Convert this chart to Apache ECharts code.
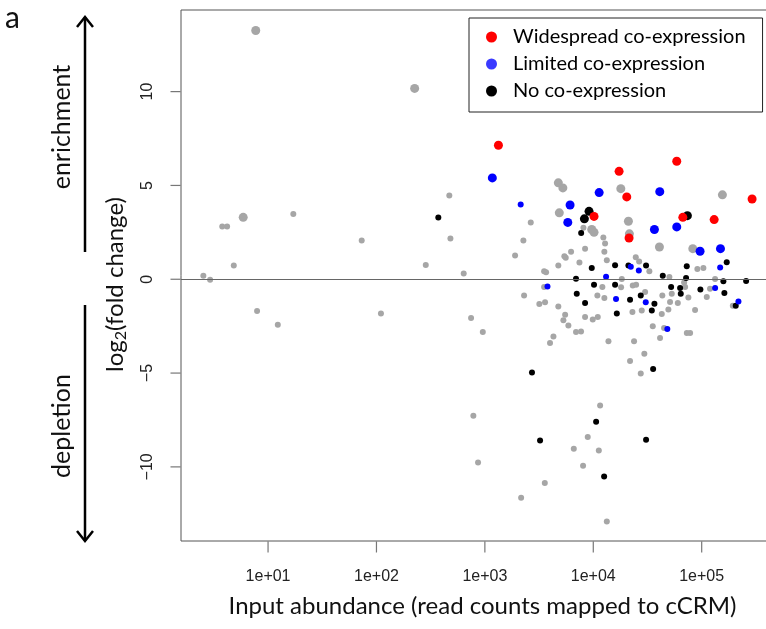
<!DOCTYPE html>
<html>
<head>
<meta charset="utf-8">
<script src="https://cdn.jsdelivr.net/npm/echarts@6/dist/echarts.min.js"></script>
<style>
  html, body { margin: 0; padding: 0; background: #fff; }
  #main { width: 766px; height: 629px; }
</style>
</head>
<body>
<div id="main"></div>
<script>
// x = input read counts, y = log2(fold change)
const xTickValues = [10, 100, 1000, 10000, 100000];
const xTickLabels = ['1e+01', '1e+02', '1e+03', '1e+04', '1e+05'];
const yTickValues = [-10, -5, 0, 5, 10];
const yTickLabels = ['\u221210', '\u22125', '0', '5', '10'];
const X_MIN = 1.574, X_MAX = 464500;
const Y_MIN = -13.95, Y_MAX = 14.35;

const classNames = ['Widespread co-expression', 'Limited co-expression', 'No co-expression'];

const grayLarge = [
  [7.7, 13.26], [225, 10.17], [5.9, 3.30], [4760, 5.14], [5240, 4.87], [4860, 3.54],
  [9680, 2.65], [10160, 2.50], [17950, 4.83], [21090, 3.09], [21530, 2.42],
  [40740, 1.72], [82800, 1.63], [155300, 4.50]
];
const graySmall = [
  [470, 4.47], [17.1, 3.48], [3.78, 2.81], [4.19, 2.81], [481, 2.17], [73.1, 2.07],
  [4.83, 0.73], [285, 0.76], [2.53, 0.19], [2.92, -0.02], [638, 0.31], [7.92, -1.69],
  [12.3, -2.42], [110, -1.82], [746, -2.06], [957, -2.81],
  [2265, 2.07], [1900, 1.27], [2650, 3.03], [6240, 1.46], [8400, 1.63], [5410, 1.22],
  [5570, 1.14], [7450, 0.89], [4760, 0.73], [3520, 0.42], [3670, 0.37], [12850, 1.90],
  [12650, 1.46], [13330, 1.01], [12380, 2.23], [8110, 2.74],
  [3520, -0.41], [12130, -0.41], [2300, -0.86], [10910, -0.87], [12650, -1.00],
  [3180, -1.32], [3590, -1.23], [4760, -1.45], [5500, -1.89], [5300, -2.19],
  [8400, -2.01], [9890, -2.15], [11000, -2.01], [5890, -2.46], [6930, -2.81],
  [7710, -2.78], [4290, -3.05], [3990, -3.40], [13800, -3.31],
  [24660, 1.17], [26470, 0.95], [32900, 0.42], [91200, 0.55], [103700, 0.60],
  [50350, 0.12], [68860, -0.17], [18320, 0.02], [18050, -0.43], [23120, -0.33],
  [24830, -0.29], [70310, -0.41], [119400, -0.50], [132900, 0.02], [30060, -0.68],
  [43350, -0.86], [52950, -0.77], [75340, -0.97], [111400, -0.94], [51050, -1.21],
  [60220, -1.26], [193700, -1.41], [28000, -1.66], [22960, -1.74], [49290, -1.61],
  [86880, -1.64], [42830, -1.85], [35380, -2.51], [44980, -2.60], [72950, -2.86],
  [78210, -2.86], [41300, -3.13], [23770, -3.31],
  [29580, -3.97], [21830, -4.36], [27400, -5.02], [11560, -6.73], [783, -7.27],
  [8890, -8.41], [6610, -9.03], [11250, -9.13], [865, -9.77], [8050, -9.94],
  [3570, -10.86], [2160, -11.65], [13330, -12.91]
];
const blackLarge = [[9140, 3.62], [8280, 3.22], [73800, 3.39]];
const blackSmall = [
  [372, 3.29], [7730, 2.47], [9680, 0.60], [15890, 0.75], [21090, 0.73], [30690, 0.73],
  [72810, 0.69], [170200, 0.90], [43750, 0.19], [71790, 0.07], [6930, 0.03],
  [10160, -0.29], [15890, -0.29], [52240, -0.41], [63240, -0.46], [97300, -0.54],
  [158500, -0.11], [256900, -0.09], [7040, -0.77], [27400, -0.86], [64120, -0.77],
  [161900, -0.73], [8400, -1.26], [21830, -1.09], [36640, -1.30], [206100, -1.41],
  [34670, -1.66], [16480, -1.83], [35650, -4.78], [2720, -4.97], [10620, -7.59],
  [3230, -8.59], [30690, -8.55], [12590, -10.51]
];
const blueLarge = [
  [1172, 5.40], [11330, 4.62], [6110, 3.96], [5820, 3.03], [41050, 4.67],
  [36640, 2.65], [58880, 2.79], [96600, 1.49], [149000, 1.63]
];
const blueSmall = [
  [2140, 3.99], [22180, 0.66], [26300, 0.46], [148000, 0.63], [13120, 0.14],
  [3780, -0.38], [133000, -0.46], [16210, -1.05], [30480, -1.23], [218300, -1.18],
  [48200, -2.65]
];
const redPoints = [
  [1334, 7.14], [17300, 5.75], [58880, 6.29], [20370, 4.39], [10160, 3.35],
  [66990, 3.30], [130300, 3.18], [291700, 4.28], [21380, 2.20]
];

const GRAY = '#a6a6a6', RED = '#ff0000', BLUE = '#0000ff', BLACK = '#000000';
const AXIS = '#555';
const BIG = 9, SMALL = 6;
const CAL = 'Lato, "Open Sans", sans-serif';
const ARIAL = '"Liberation Sans", Arial, sans-serif';

function pts(name, data, color, size) {
  return {
    name: name,
    type: 'scatter',
    data: data,
    symbol: 'circle',
    symbolSize: size,
    itemStyle: { color: color, opacity: 1 },
    emphasis: { disabled: true }
  };
}

// tick marks hang outside the plot box, R style
function tickMarks(data, size, offset) {
  return {
    name: 'ticks',
    type: 'scatter',
    data: data,
    symbol: 'rect',
    symbolSize: size,
    symbolOffset: offset,
    clip: false,
    silent: true,
    itemStyle: { color: AXIS },
    emphasis: { disabled: true }
  };
}

const chart = echarts.init(document.getElementById('main'));

const option = {
  animation: false,
  backgroundColor: '#fff',
  grid: {
    left: 181, top: 10, width: 593, height: 531,
    outerBoundsMode: 'none',
    show: true, borderColor: AXIS, borderWidth: 1, backgroundColor: 'transparent'
  },
  legend: {
    data: [
      { name: classNames[0], itemStyle: { color: RED } },
      { name: classNames[1], itemStyle: { color: '#3a3aff' } },
      { name: classNames[2], itemStyle: { color: BLACK } }
    ],
    orient: 'vertical',
    left: 469, top: 18,
    icon: 'circle',
    itemWidth: 11, itemHeight: 11,
    itemGap: 7,
    padding: [9, 17, 11, 17],
    borderColor: '#222', borderWidth: 1, borderRadius: 0,
    backgroundColor: '#fff',
    selectedMode: false,
    textStyle: { fontFamily: CAL, fontSize: 20, color: '#000', lineHeight: 20, padding: [0, 0, 0, 11] }
  },
  xAxis: {
    type: 'log',
    logBase: 10,
    min: X_MIN,
    max: X_MAX,
    name: 'Input abundance (read counts mapped to cCRM)',
    nameLocation: 'middle',
    nameGap: 53,
    nameTextStyle: { fontFamily: CAL, fontSize: 24, color: '#111', padding: [0, 0, 0, 10] },
    axisLine: { show: false, onZero: false },
    splitLine: { show: false },
    axisTick: { show: false },
    axisLabel: {
      customValues: xTickValues,
      fontFamily: ARIAL, fontSize: 16, color: '#222', margin: 28,
      formatter: function (v) {
        const i = xTickValues.findIndex(t => Math.abs(Math.log10(t) - Math.log10(v)) < 1e-6);
        return i >= 0 ? xTickLabels[i] : '';
      }
    }
  },
  yAxis: {
    type: 'value',
    min: Y_MIN,
    max: Y_MAX,
    name: '{n|log}{s|2}{n|(fold change)}',
    nameLocation: 'middle',
    nameRotate: 90,
    nameGap: 52,
    nameTextStyle: {
      padding: [0, 18, 0, 0],
      rich: {
        n: { fontFamily: CAL, fontSize: 24, color: '#111' },
        s: { fontFamily: CAL, fontSize: 16, color: '#111', padding: [11, 0, 0, 0] }
      }
    },
    axisLine: { show: false, onZero: false },
    splitLine: { show: false },
    axisTick: { show: false },
    axisLabel: {
      customValues: yTickValues,
      rotate: 90,
      fontFamily: ARIAL, fontSize: 16, color: '#222', margin: 25,
      formatter: function (v) {
        const i = yTickValues.findIndex(t => Math.abs(t - v) < 1e-6);
        return i >= 0 ? yTickLabels[i] : '';
      }
    }
  },
  graphic: [
    { type: 'text', left: 5, top: 3, style: { text: 'a', font: '30px ' + CAL, fill: '#111' } },
    { type: 'line', shape: { x1: 85, y1: 17, x2: 85, y2: 252 }, style: { stroke: '#000', lineWidth: 2.5 } },
    { type: 'polyline', shape: { points: [[77, 27], [85, 17], [93, 27]] }, style: { stroke: '#000', lineWidth: 2.5, fill: null } },
    { type: 'line', shape: { x1: 85, y1: 305, x2: 85, y2: 541 }, style: { stroke: '#000', lineWidth: 2.5 } },
    { type: 'polyline', shape: { points: [[77, 531], [85, 541], [93, 531]] }, style: { stroke: '#000', lineWidth: 2.5, fill: null } },
    {
      type: 'text', x: 62, y: 127, rotation: Math.PI / 2,
      style: { text: 'enrichment', font: '25px ' + CAL, fill: '#111', align: 'center', verticalAlign: 'middle' }
    },
    {
      type: 'text', x: 62, y: 426, rotation: Math.PI / 2,
      style: { text: 'depletion', font: '25px ' + CAL, fill: '#111', align: 'center', verticalAlign: 'middle' }
    }
  ],
  series: [
    tickMarks(xTickValues.map(v => [v, Y_MIN]), [1.2, 11], [0, 6]),
    tickMarks(yTickValues.map(v => [X_MIN, v]), [10, 1.2], [-5.5, 0]),
    pts('other', grayLarge, GRAY, BIG),
    Object.assign(pts('other', graySmall, GRAY, SMALL), {
      markLine: {
        silent: true, symbol: 'none', label: { show: false },
        lineStyle: { color: '#666', width: 1.2, type: 'solid' },
        data: [{ yAxis: 0 }]
      }
    }),
    pts(classNames[2], blackLarge, BLACK, BIG),
    pts(classNames[2], blackSmall, BLACK, SMALL),
    pts(classNames[1], blueLarge, BLUE, BIG),
    pts(classNames[1], blueSmall, BLUE, SMALL),
    pts(classNames[0], redPoints, RED, BIG)
  ]
};

chart.setOption(option);
</script>
</body>
</html>
